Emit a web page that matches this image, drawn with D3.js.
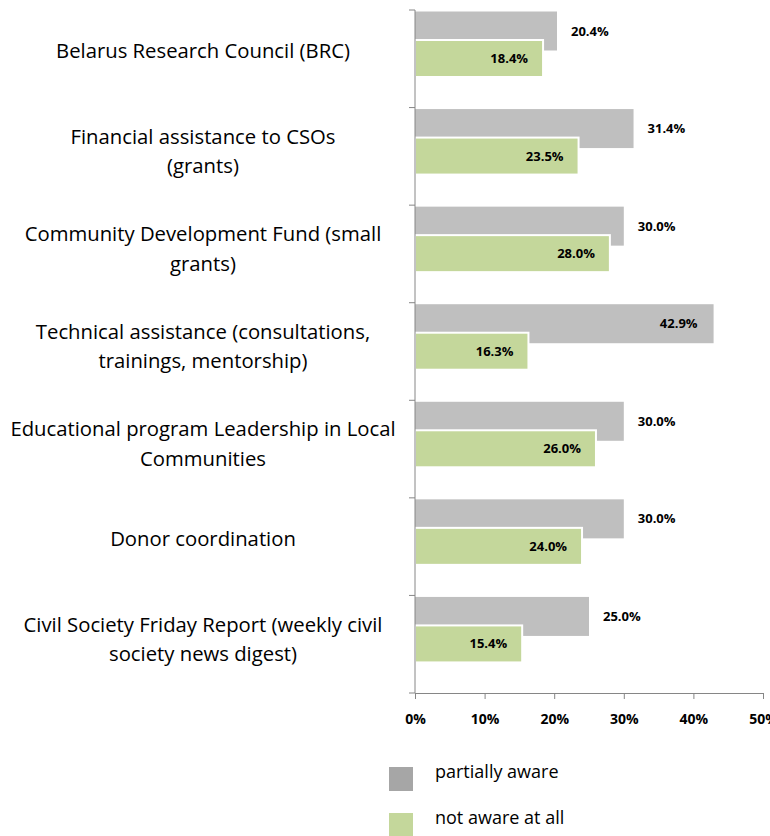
<!DOCTYPE html>
<html>
<head>
<meta charset="utf-8">
<script src="https://cdn.jsdelivr.net/npm/d3@7"></script>
<style>
  body { margin: 0; background: #fff; }
  svg { display: block; font-family: "Open Sans", sans-serif; }
</style>
</head>
<body>
<svg id="chart" width="770" height="836"></svg>
<script>
// data
var categories = [
    ["Belarus Research Council (BRC)"],
    ["Financial assistance to CSOs", "(grants)"],
    ["Community Development Fund (small", "grants)"],
    ["Technical assistance (consultations,", "trainings, mentorship)"],
    ["Educational program Leadership in Local", "Communities"],
    ["Donor coordination"],
    ["Civil Society Friday Report (weekly civil", "society news digest)"]
];
var partiallyAware = [20.4, 31.4, 30.0, 42.9, 30.0, 30.0, 25.0];
var notAware = [18.4, 23.5, 28.0, 16.3, 26.0, 24.0, 15.4];
var xTicks = [0, 10, 20, 30, 40, 50];
var seriesNames = ["partially aware", "not aware at all"];

var grey = "#bfbfbf", green = "#c4d79b", legendGrey = "#a6a6a6";
var axisCol = "#868686";

var svg = d3.select("#chart");

var x = d3.scaleLinear().domain([0, 50]).range([415, 763]);
var y = d3.scaleBand().domain(d3.range(categories.length)).range([10, 693]);

// bars - grey behind, green overlapping below it
var g = svg.append("g");
g.selectAll(".grey").data(partiallyAware).join("rect")
    .attr("class", "grey")
    .attr("x", x(0))
    .attr("y", (d, i) => y(i) + 1.5)
    .attr("width", d => x(d) - x(0))
    .attr("height", 39)
    .attr("fill", grey);

g.selectAll(".green").data(notAware).join("rect")
    .attr("class", "green")
    .attr("x", x(0))
    .attr("y", (d, i) => y(i) + 30)
    .attr("width", d => x(d) - x(0))
    .attr("height", 37)
    .attr("fill", green)
    .attr("stroke", "#fff")
    .attr("stroke-width", 2);

// value labels
g.selectAll(".glab").data(partiallyAware).join("text")
    .attr("class", "glab")
    .attr("x", d => d > 40 ? x(d) - 16 : x(d) + 14)
    .attr("y", (d, i) => y(i) + 21)
    .attr("dy", "0.35em")
    .attr("text-anchor", d => d > 40 ? "end" : "start")
    .attr("font-size", 13)
    .attr("font-weight", "bold")
    .attr("fill", "#000")
    .text(d => d.toFixed(1) + "%");

g.selectAll(".nlab").data(notAware).join("text")
    .attr("class", "nlab")
    .attr("x", d => x(d) - 15)
    .attr("y", (d, i) => y(i) + 48.5)
    .attr("dy", "0.35em")
    .attr("text-anchor", "end")
    .attr("font-size", 13)
    .attr("font-weight", "bold")
    .attr("fill", "#000")
    .text(d => d.toFixed(1) + "%");

// axes
var xAxis = svg.append("g")
    .attr("transform", "translate(0,693)")
    .call(d3.axisBottom(x).tickValues(xTicks).tickSize(6).tickSizeOuter(0).tickFormat(d => d + "%"));
xAxis.select(".domain").attr("stroke", axisCol);
xAxis.selectAll(".tick line").attr("stroke", axisCol);
xAxis.selectAll(".tick text")
    .attr("font-family", "'Open Sans', sans-serif")
    .attr("font-size", 14)
    .attr("font-weight", "bold")
    .attr("fill", "#000")
    .attr("dy", "1.6em");

var yAxis = svg.append("g").attr("transform", "translate(415,0)");
yAxis.append("line")
    .attr("y1", y.range()[0]).attr("y2", y.range()[1])
    .attr("stroke", axisCol);
yAxis.selectAll(".yt").data(d3.range(categories.length + 1)).join("line")
    .attr("class", "yt")
    .attr("x1", -6).attr("x2", 0)
    .attr("y1", i => y(0) + i * y.step())
    .attr("y2", i => y(0) + i * y.step())
    .attr("stroke", axisCol);

// category labels
var lineH = 29.5;
svg.selectAll(".cat").data(categories).join("text")
    .attr("class", "cat")
    .attr("text-anchor", "middle")
    .attr("font-size", 20.3)
    .attr("fill", "#000")
    .each(function(lines, i) {
        var cy = y(i) + y.bandwidth() / 2 - (lines.length > 1 ? 5 : 8);
        var top = cy - (lines.length - 1) * lineH / 2;
        d3.select(this).selectAll("tspan").data(lines).join("tspan")
            .attr("x", 203)
            .attr("y", (l, j) => top + j * lineH)
            .attr("dy", "0.35em")
            .text(l => l);
    });

// legend
var legend = svg.append("g");
var legCols = [legendGrey, green];
legend.selectAll("rect").data(seriesNames).join("rect")
    .attr("x", 389)
    .attr("y", (d, i) => 767 + i * 46)
    .attr("width", 24)
    .attr("height", 24)
    .attr("fill", (d, i) => legCols[i]);
legend.selectAll("text").data(seriesNames).join("text")
    .attr("x", 435)
    .attr("y", (d, i) => 772 + i * 46)
    .attr("dy", "0.35em")
    .attr("font-size", 18)
    .attr("fill", "#000")
    .text(d => d);
</script>
</body>
</html>
